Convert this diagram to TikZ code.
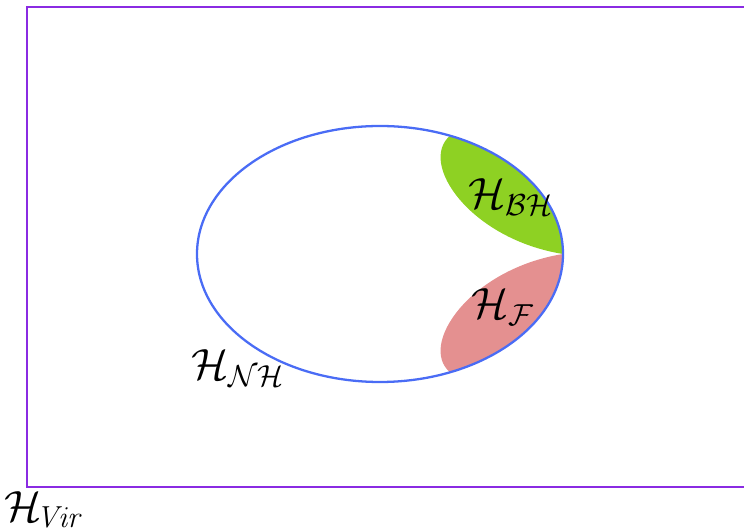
\documentclass[tikz,border=0pt]{standalone}
\usepackage{amsmath}
\usepackage{xcolor}
\usetikzlibrary{positioning, calc}
\definecolor{virpurple}{HTML}{8A2BE2}
\definecolor{nhblue}{HTML}{4A6CF5}
\definecolor{bhgreen}{HTML}{8ED123}
\definecolor{fred}{HTML}{E49090}

\begin{document}
\begin{tikzpicture}[x=0.02cm, y=0.02cm,
    lbl/.style={font=\fontsize{24}{29}\selectfont, inner sep=0pt}]
  \useasboundingbox (0,0) rectangle (744,531);
  % outer space
  \begin{scope}
    \clip (0,0) rectangle (744,531);
    \draw[virpurple, line width=1.6pt] (27,44) rectangle (780,524);
  \end{scope}
  % lenses
  \fill[bhgreen] (563,277) arc[start angle=0, end angle=67.5, x radius=183, y radius=128]
    .. controls (418,368) and (470,292) .. (563,277);
  \fill[fred] (563,277) .. controls (470,262) and (418,186) .. (450,158.7)
    arc[start angle=-67.5, end angle=0, x radius=183, y radius=128];
  % NH ellipse
  \draw[nhblue, line width=1.3pt] (380,277) ellipse[x radius=183, y radius=128];
  \node[lbl] (bh) at (511,334) {$\mathcal{H}_{\mathcal{BH}}$};
  \node[lbl] (f) at (503,224) {$\mathcal{H}_{\mathcal{F}}$};
  \node[lbl] (nh) at (238,163) {$\mathcal{H}_{\mathcal{NH}}$};
  \node[lbl, anchor=south] (vir) at (44,3) {$\mathcal{H}_{\!\mathit{Vir}}$};
\end{tikzpicture}
\end{document}
